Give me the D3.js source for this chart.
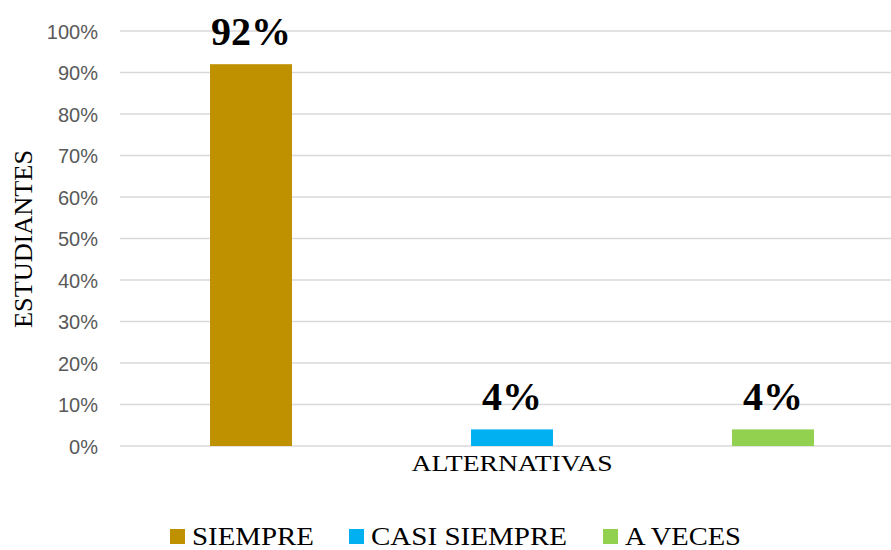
<!DOCTYPE html>
<html>
<head>
<meta charset="utf-8">
<script src="https://cdn.jsdelivr.net/npm/d3@7"></script>
<style>
  html, body { margin: 0; padding: 0; background: #fff; }
  svg { display: block; }
  .serif { font-family: "Times New Roman", "Liberation Serif", Tinos, Times, serif; }
  .sans { font-family: "Liberation Sans", Arial, Helvetica, sans-serif; }
</style>
</head>
<body>
<svg id="chart" width="891" height="550"></svg>
<script>
const series = ["SIEMPRE", "CASI SIEMPRE", "A VECES"];
const values = [0.92, 0.04, 0.04];
const valueLabels = ["92%", "4%", "4%"];
const colors = ["#BF9000", "#00B0F0", "#92D050"];
const yTicks = [0, 0.1, 0.2, 0.3, 0.4, 0.5, 0.6, 0.7, 0.8, 0.9, 1.0];
const xTitle = "ALTERNATIVAS";
const yTitle = "ESTUDIANTES";

const svg = d3.select("#chart");
const plot = { left: 120, right: 891, top: 31, bottom: 446 };

const y = d3.scaleLinear().domain([0, 1]).range([plot.bottom, plot.top]);
const x = d3.scaleBand().domain(series).range([120.5, 903.5])
  .paddingInner(0.686).paddingOuter(0.343);

// gridlines
svg.append("g").selectAll("line").data(yTicks).join("line")
  .attr("x1", plot.left).attr("x2", plot.right)
  .attr("y1", d => y(d)).attr("y2", d => y(d))
  .attr("stroke", "#d9d9d9").attr("stroke-width", 1.5);

// y axis labels
const yAxis = d3.axisLeft(y).tickValues(yTicks).tickFormat(d3.format(".0%")).tickSize(0).tickPadding(0);
const gy = svg.append("g").attr("transform", "translate(98,0)").call(yAxis);
gy.select(".domain").remove();
gy.attr("font-family", null).attr("font-size", null);
gy.selectAll("text")
  .attr("class", "sans")
  .attr("fill", "#595959")
  .style("font-size", "20px")
  .attr("dy", "0.35em");

// bars
svg.append("g").selectAll("rect").data(series).join("rect")
  .attr("x", d => x(d))
  .attr("width", x.bandwidth())
  .attr("y", (d, i) => y(values[i]))
  .attr("height", (d, i) => y(0) - y(values[i]))
  .attr("fill", (d, i) => colors[i]);

// value labels
svg.append("g").selectAll("text").data(series).join("text")
  .attr("class", "serif")
  .attr("x", d => x(d) + x.bandwidth() / 2)
  .attr("y", (d, i) => y(values[i]) - 19)
  .attr("text-anchor", "middle")
  .style("font-weight", "bold")
  .style("font-size", "40px")
  .attr("fill", "#000")
  .text((d, i) => valueLabels[i]);

// x title
svg.append("text")
  .attr("class", "serif")
  .attr("x", 512).attr("y", 471)
  .attr("text-anchor", "middle")
  .style("font-size", "24px")
  .attr("textLength", 201).attr("lengthAdjust", "spacingAndGlyphs")
  .text(xTitle);

// y title
svg.append("text")
  .attr("class", "serif")
  .attr("transform", "translate(32,239) rotate(-90)")
  .attr("text-anchor", "middle")
  .style("font-size", "25px")
  .attr("textLength", 178).attr("lengthAdjust", "spacingAndGlyphs")
  .text(yTitle);

// legend
const legend = svg.append("g");
const legendStarts = [170, 349, 603];
const legendTextWidths = [122, 196, 116];
series.forEach((s, i) => {
  const g = legend.append("g").attr("transform", `translate(${legendStarts[i]},0)`);
  g.append("rect").attr("x", 0).attr("y", 529).attr("width", 15).attr("height", 15).attr("fill", colors[i]);
  g.append("text").attr("class", "serif").attr("x", 22).attr("y", 544.5)
    .style("font-size", "25px")
    .attr("textLength", legendTextWidths[i]).attr("lengthAdjust", "spacingAndGlyphs")
    .attr("fill", "#000")
    .text(s);
});
</script>
</body>
</html>
